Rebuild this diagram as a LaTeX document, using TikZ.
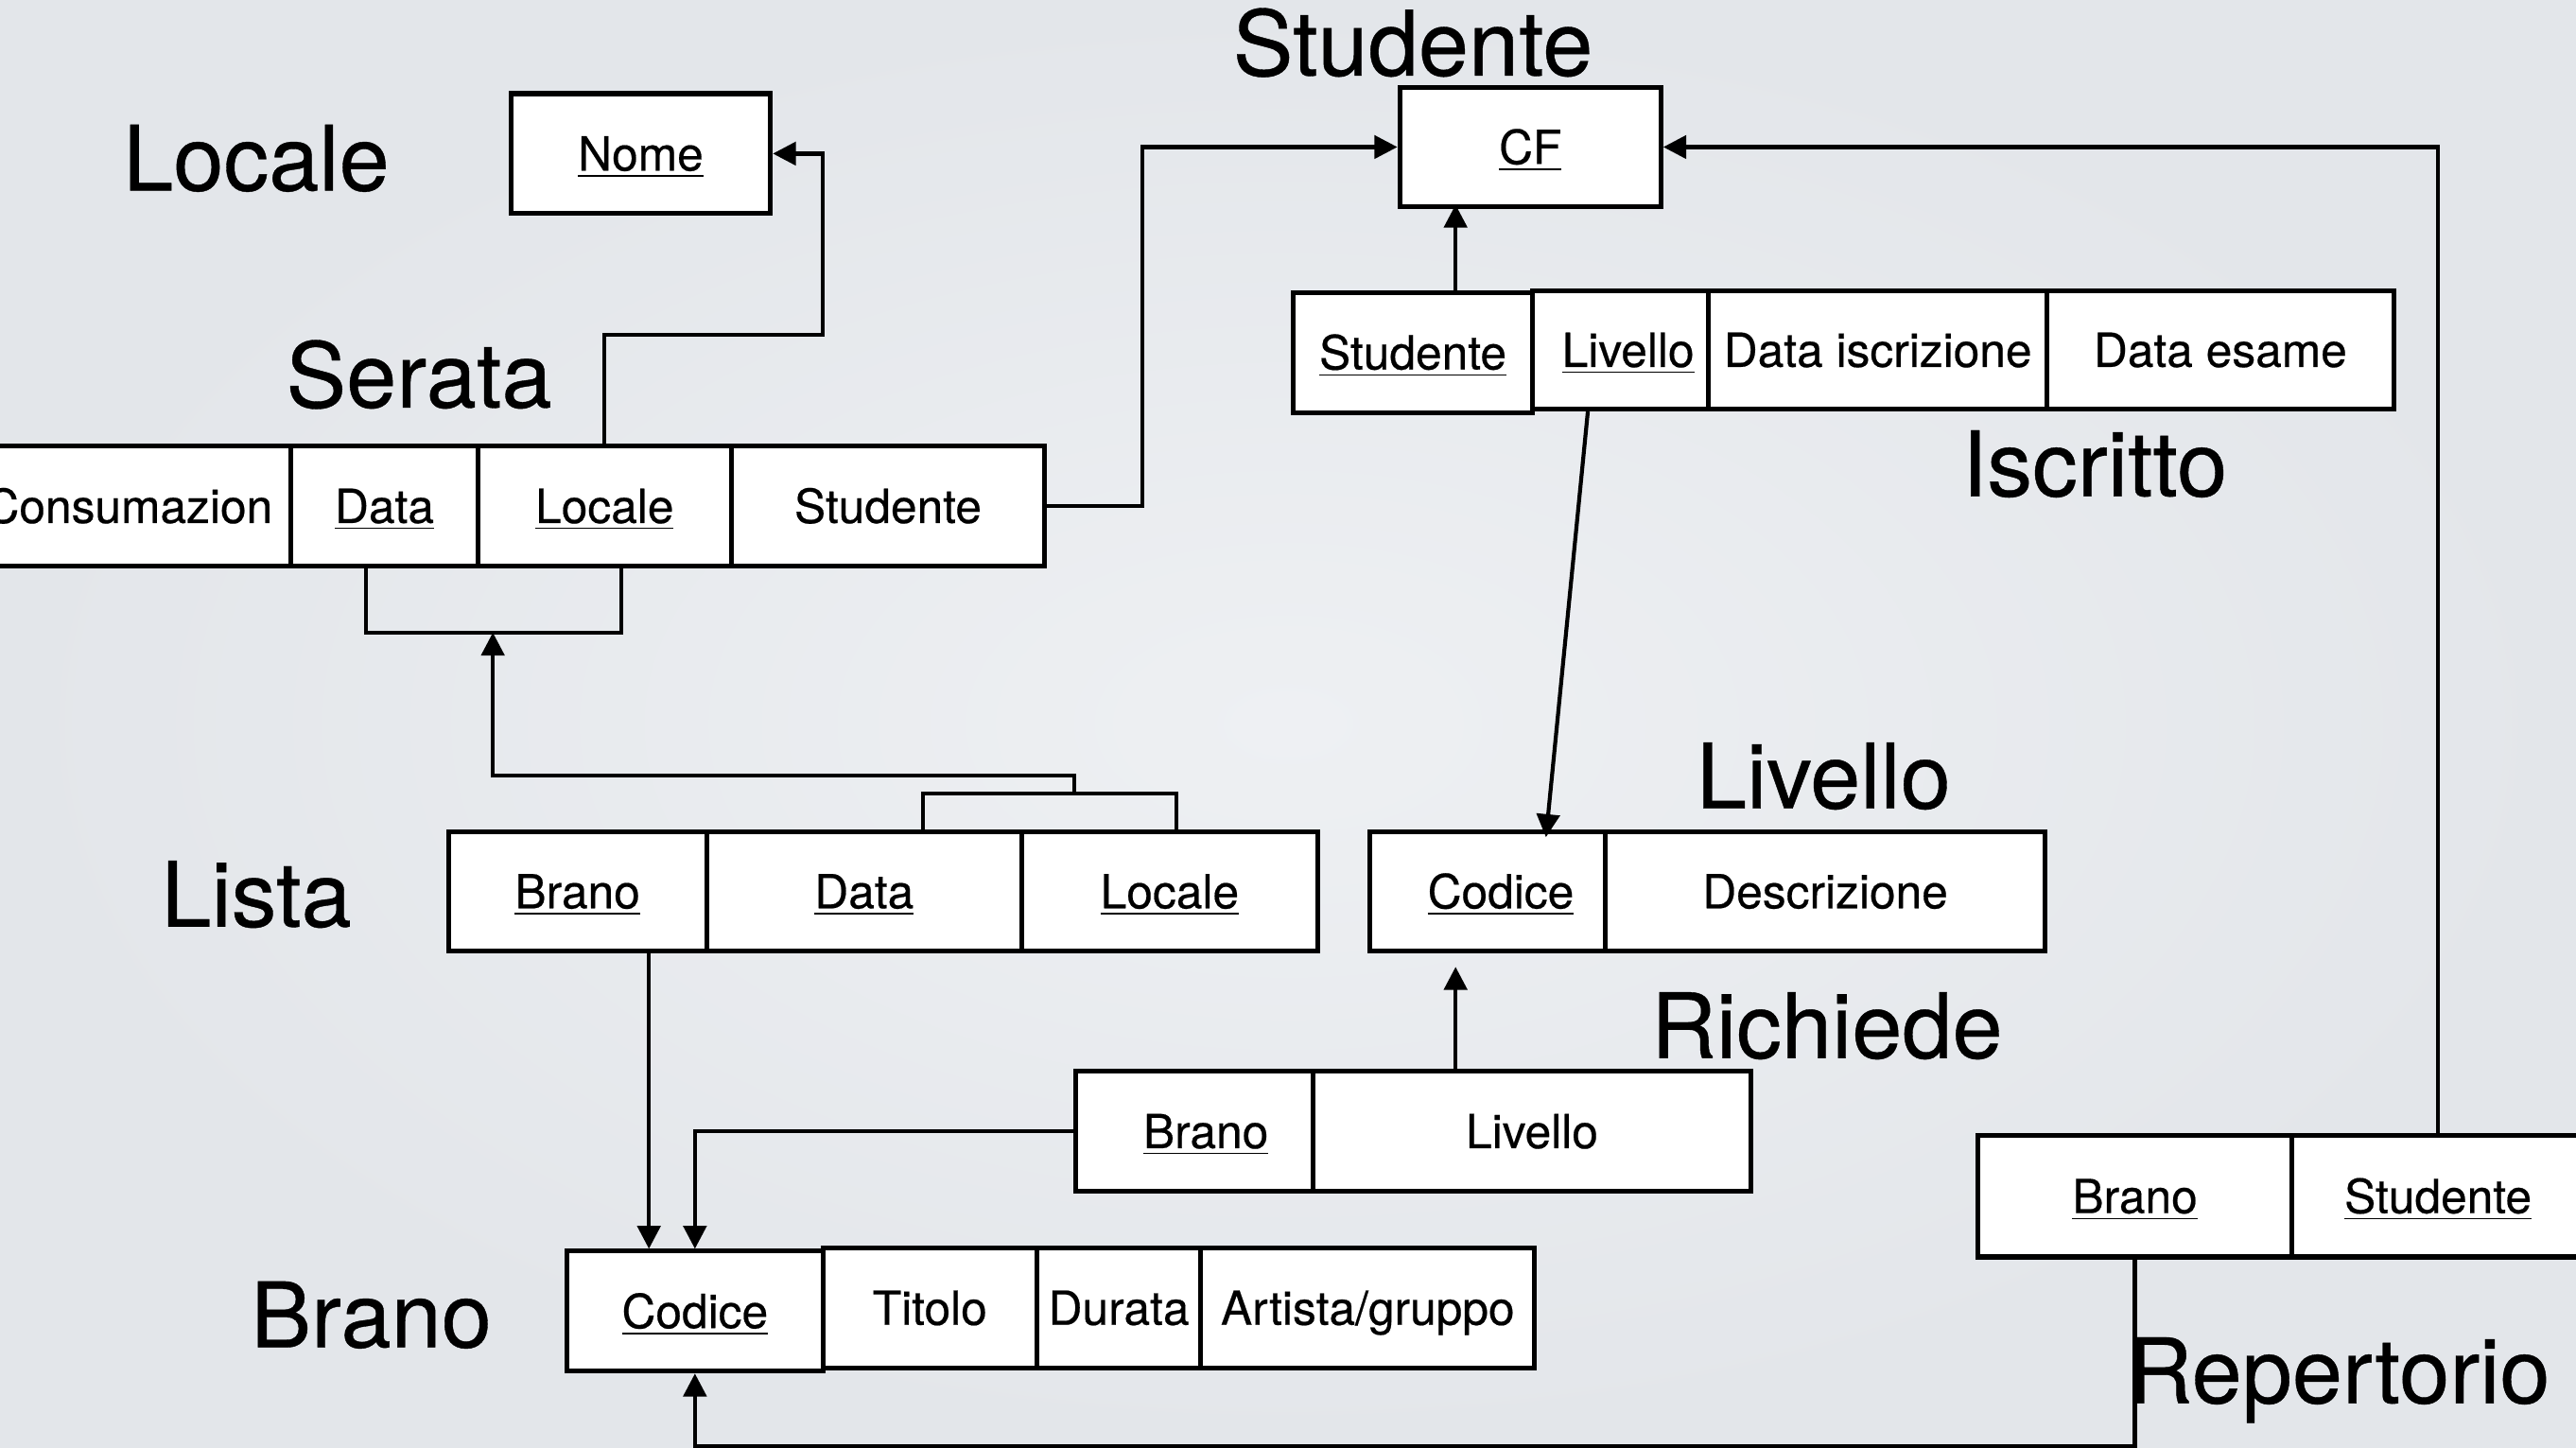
\documentclass[tikz,border=0pt]{standalone}
\usepackage{fontspec}
\setmainfont{TeX Gyre Heros}[UprightFeatures={FakeBold=0.4}]
\usetikzlibrary{arrows.meta}
\definecolor{slide}{RGB}{227, 230, 234}
\definecolor{slidelight}{RGB}{238, 240, 243}

\newcommand{\key}[1]{\underline{#1}}

\tikzset{
  cell/.style={draw, fill=white, line width=1.45pt, inner sep=0pt,
    minimum height=36.5pt, text height=10.3pt, text depth=0pt,
    font=\fontsize{14.3}{17}\selectfont},
  title/.style={anchor=base, font=\fontsize{27.5}{33}\selectfont},
  link/.style={line width=1.2pt},
}

\begin{document}
\begin{tikzpicture}[x=0.5pt, y=-0.5pt, >={Triangle[length=7pt, width=7pt]}]

  \useasboundingbox (0,0) rectangle (1568,881);
  \clip (0,0) rectangle (1568,881);
  \shade[inner color=slidelight, outer color=slide] (0,0) rectangle (1568,881);

  % Locale
  \node[title] (tLocale) at (156,116) {Locale};
  \node[cell, minimum width=79pt] (nome) at (390,93.5) {\key{Nome}};

  % Serata
  \node[title] (tSerata) at (255,248) {Serata};
  \node[cell, minimum width=98.5pt] (serCons) at (78.5,308) {Consumazion};
  \node[cell, minimum width=57pt] (serData) at (234,308) {\key{Data}\hspace{11pt}};
  \node[cell, minimum width=77pt] (serLoc) at (368,308) {\key{Locale}};
  \node[cell, minimum width=95.5pt] (serStud) at (540.5,308) {Studente};

  % Studente
  \node[title] (tStudente) at (860,46) {Studente};
  \node[cell, minimum width=79.5pt] (cf) at (931.5,89.5) {\key{CF}};

  % Iscritto
  \node[cell, minimum width=73pt] (isStud) at (860,214.5) {\key{Studente}};
  \node[cell, minimum width=53.5pt, minimum height=36pt] (isLiv) at (986.5,213) {\hspace{4.5pt}\key{Livello}};
  \node[cell, minimum width=103pt, minimum height=36pt] (isIscr) at (1143,213) {Data iscrizione};
  \node[cell, minimum width=105.5pt, minimum height=36pt] (isEsame) at (1351.5,213) {Data esame};
  \node[title] (tIscritto) at (1275,302) {Iscritto};

  % Livello
  \node[title] (tLivello) at (1110,492) {Livello};
  \node[cell, minimum width=71.5pt] (livCod) at (905.5,542.5) {\hspace{8pt}\key{Codice}};
  \node[cell, minimum width=134pt] (livDesc) at (1111,542.5) {Descrizione};

  % Lista
  \node[title] (tLista) at (156,564) {Lista};
  \node[cell, minimum width=78.5pt] (liBra) at (351.5,542.5) {\key{Brano}};
  \node[cell, minimum width=96pt] (liData) at (526,542.5) {\key{Data}};
  \node[cell, minimum width=90pt] (liLoc) at (712,542.5) {\key{Locale}\hspace{5pt}};

  % Richiede
  \node[title] (tRichiede) at (1112,644) {Richiede};
  \node[cell, minimum width=72pt] (riBra) at (727,688.5) {\hspace{7pt}\key{Brano}};
  \node[cell, minimum width=133.5pt] (riLiv) at (932.5,688.5) {Livello};

  % Brano
  \node[title] (tBrano) at (226,820) {Brano};
  \node[cell, minimum width=78pt] (brCod) at (423,798) {\key{Codice}};
  \node[cell, minimum width=65pt] (brTit) at (566,796) {Titolo};
  \node[cell, minimum width=50pt] (brDur) at (681,796) {Durata};
  \node[cell, minimum width=101.5pt] (brArt) at (832.5,796) {Artista/gruppo};

  % Repertorio
  \node[cell, minimum width=95.5pt, minimum height=37pt] (repBra) at (1299.5,728) {\key{Brano}};
  \node[cell, minimum width=89pt, minimum height=37pt] (repStud) at (1484,728) {\key{Studente}};
  \node[title] (tRepertorio) at (1423.5,854) {Repertorio};

  % chiavi esterne
  \draw[link, ->] (serLoc.north) |- (501,204) |- (nome.east);
  \draw[link, ->] (serStud.east) -- ++(29pt,0) |- (cf.west);

  \coordinate (serKey) at (300,385);
  \draw[link] ([xshift=-5.5pt]serData.south) |- (serKey) -| ([xshift=5pt]serLoc.south);
  \coordinate (liKey) at (654,483);
  \draw[link] ([xshift=18pt]liData.north) |- (liKey) -| ([xshift=2pt]liLoc.north);
  \draw[link, ->] (liKey) -- ++(0,5.5pt) -| (serKey);

  \draw[link, ->] ([xshift=13pt]isStud.north) -- ++(0,26pt);
  \draw[link, ->] (repStud.north) |- (cf.east);
  \draw[link, ->] ([xshift=-10pt]isLiv.south) -- ([xshift=17.75pt, yshift=-2.5pt]livCod.north);
  \draw[link, ->] ([xshift=-23.25pt]riLiv.north) -- ([xshift=-9.75pt, yshift=-4pt]livCod.south);

  \draw[link, ->] (riBra.west) -| (brCod.north);
  \draw[link, ->] ([xshift=21.75pt]liBra.south) -- ([xshift=-14pt]brCod.north);
  \draw[link, ->] (repBra.south) -- ++(0,-57pt) -| (brCod.south);

\end{tikzpicture}
\end{document}
